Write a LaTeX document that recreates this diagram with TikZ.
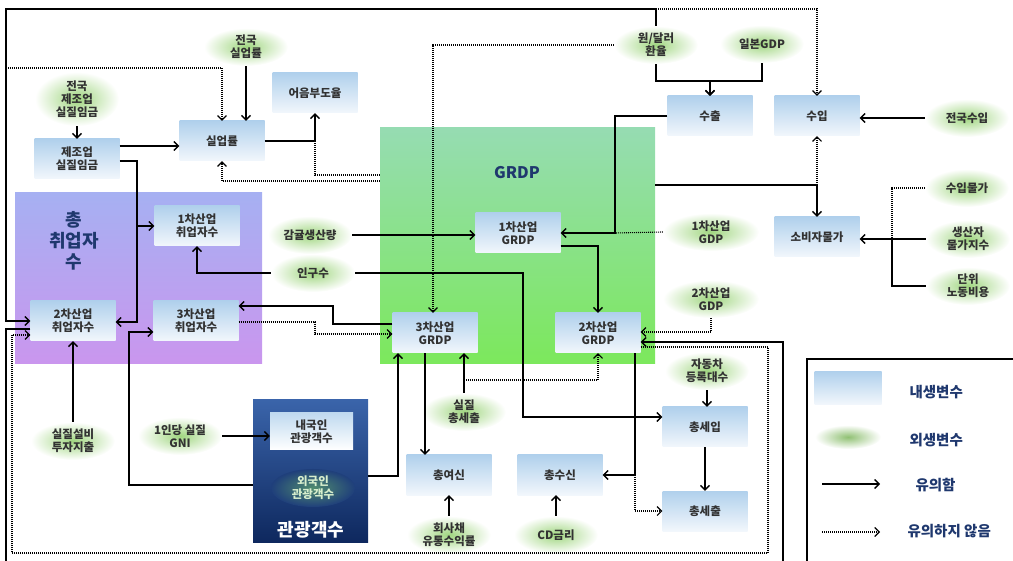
\documentclass[tikz,border=0pt]{standalone}
\usepackage{fontspec}
\setmainfont{Noto Sans CJK KR}
\usetikzlibrary{arrows.meta,shapes.geometric}

\definecolor{boxtop}{RGB}{176,208,236}
\definecolor{boxbot}{RGB}{242,247,252}
\definecolor{glow}{RGB}{160,214,128}
\definecolor{navy}{RGB}{31,56,110}
\definecolor{txt}{RGB}{50,50,50}
\definecolor{emptop}{RGB}{166,176,242}
\definecolor{empbot}{RGB}{202,150,238}
\definecolor{grdptop}{RGB}{150,220,178}
\definecolor{grdpbot}{RGB}{124,232,92}
\definecolor{tourtop}{RGB}{58,100,170}
\definecolor{tourbot}{RGB}{14,40,94}
\definecolor{tourmid}{RGB}{31,63,123}
\definecolor{forglow}{RGB}{80,140,110}
\definecolor{fortext}{RGB}{215,238,205}

\begin{document}
\begin{tikzpicture}[x=1pt,y=-1pt,
  endo/.style={rectangle,top color=boxtop,bottom color=boxbot,minimum width=85,minimum height=40,
    inner sep=1pt,align=center,text=txt,font=\fontsize{11.5}{12.8}\selectfont\bfseries},
  exo/.style={ellipse,inner color=glow,outer color=white,minimum width=84,minimum height=38,
    inner sep=1pt,align=center,text=txt,font=\fontsize{11.5}{12.8}\selectfont\bfseries},
  grp/.style={rectangle,inner sep=0pt},
  title/.style={align=center,text=navy,font=\fontsize{18}{21}\selectfont\bfseries},
  sig/.style={line width=1.3pt,-{Straight Barb[length=4.5pt,width=9pt]}},
  nsig/.style={line width=1.1pt,dash pattern=on 1pt off 1pt,-{Straight Barb[length=4.5pt,width=9pt]}},
  lgtext/.style={text=navy,font=\fontsize{14.5}{16}\selectfont\bfseries}]

  \useasboundingbox (0,0) rectangle (1013,561);

  % groups
  \node[grp,top color=emptop,bottom color=empbot,minimum width=247,minimum height=171] (empbox) at (138.5,278.5) {};
  \node[grp,top color=grdptop,bottom color=grdpbot,minimum width=275,minimum height=236] (grdpbox) at (517.5,246) {};
  \node[grp,top color=tourtop,bottom color=tourbot,minimum width=115,minimum height=142] (tourbox) at (310.5,471) {};
  \node[title] at (74,241) {총\\취업자\\수};
  \node[title,font=\fontsize{16}{18}\selectfont\bfseries] at (517,173) {GRDP};
  \node[title,text=white] at (311,530) {관광객수};

  % endogenous
  \node[endo] (wage) at (77,159) {제조업\\실질임금};
  \node[endo] (unemp) at (222,141) {실업률};
  \node[endo] (bill) at (315,93) {어음부도율};
  \node[endo] (export) at (710,116) {수출};
  \node[endo] (import) at (817,116) {수입};
  \node[endo] (cpi) at (817,237) {소비자물가};
  \node[endo] (emp1) at (197,226) {1차산업\\취업자수};
  \node[endo] (emp2) at (73,321) {2차산업\\취업자수};
  \node[endo] (emp3) at (196,321) {3차산업\\취업자수};
  \node[endo] (grdp1) at (518,233) {1차산업\\GRDP};
  \node[endo] (grdp3) at (435,333) {3차산업\\GRDP};
  \node[endo] (grdp2) at (598,333) {2차산업\\GRDP};
  \node[endo] (rev) at (705,427) {총세입};
  \node[endo] (expd) at (705,511) {총세출};
  \node[endo] (loan) at (449,475) {총여신};
  \node[endo] (dep) at (560,475) {총수신};
  \node[endo,minimum width=83,minimum height=37,top color=boxtop!80!white,bottom color=white] (dom) at (311.5,431.5) {내국인\\관광객수};

  % exogenous
  \node[exo] (exunemp) at (246,47) {전국\\실업률};
  \node[exo,minimum height=46] (exwage) at (77,99) {전국\\제조업\\실질임금};
  \node[exo] (fx) at (656,45) {원/달러\\환율};
  \node[exo] (jp) at (762,44) {일본GDP};
  \node[exo] (eximp) at (967,118) {전국수입};
  \node[exo] (impp) at (967,188) {수입물가};
  \node[exo] (ppi) at (968,239) {생산자\\물가지수};
  \node[exo] (ulc) at (968,286) {단위\\노동비용};
  \node[exo,minimum width=96] (gdp1) at (711,232) {1차산업\\GDP};
  \node[exo,minimum width=96] (gdp2) at (711,299) {2차산업\\GDP};
  \node[exo] (car) at (707,371) {자동차\\등록대수};
  \node[exo] (citrus) at (310,235) {감귤생산량};
  \node[exo] (pop) at (313,273) {인구수};
  \node[exo] (rexp) at (464,412) {실질\\총세출};
  \node[exo] (inv) at (73,441) {실질설비\\투자지출};
  \node[exo] (gni) at (180,436) {1인당 실질\\GNI};
  \node[exo] (bond) at (449,535) {회사채\\유통수익률};
  \node[exo] (cd) at (556,535) {CD금리};
  \node[exo,inner color=forglow,outer color=tourmid,text=fortext] (forn) at (313,488) {외국인\\관광객수};

  % significant
  \coordinate (topfx) at (656,9);
  \coordinate (topleft) at (6,9);
  \draw[sig] (exwage) -- (wage);
  \draw[sig] (wage.east |- 0,146) -- (unemp.west |- 0,146);
  \draw[sig] (wage.east |- 0,161) -| (137,226) -- (emp1.west);
  \draw[sig] (137,226) |- (emp2.east |- 0,322);
  \draw[sig] (exunemp) -- (exunemp |- unemp.north);
  \draw[sig] (unemp.east) -| (bill.south);
  \draw[sig] (fx.north) -- (topfx) -- (topleft) |- (emp2.west |- 0,321);
  \draw[sig] (fx.south) |- (export.north |- 0,81) -- (export.north);
  \draw[sig] (jp.south) |- (export.north |- 0,81) -- (export.north);
  \draw[sig] (eximp.west) -- (import.east |- eximp.west);
  \draw[sig] (export.west) -| (615,233) -- (grdp1.east);
  \draw[sig] (grdpbox.east |- 0,185) -| (cpi.north);
  \draw[sig] (ppi.west) -- (cpi.east |- ppi.west);
  \draw[line width=1.3pt] (ulc.west) -| (892,239);
  \draw[sig] (citrus.east) -- (grdp1.west |- citrus.east);
  \draw[sig] (pop.west) -| (emp1.south);
  \draw[sig] (pop.east) -- (523,273) |- (rev.west |- 0,417);
  \draw[sig] (grdp1.east |- 0,246) -| (grdp2.north);
  \draw[sig] (grdp3.west |- 0,324) -- (333,324) |- (emp3.east |- 0,306);
  \draw[sig] (tourbox.west |- 0,485) -| (129,332) -- (emp3.west |- 0,332);
  \draw[sig] (tourbox.east |- 0,476) -| (grdp3.south -| 398,0);
  \draw[sig] (inv) -- (inv |- emp2.south);
  \draw[sig] (gni.east) -- (dom.west |- gni.east);
  \draw[sig] (rexp) -- (rexp |- grdp3.south);
  \draw[sig] (grdp3.south -| 425,0) -- (loan.north -| 425,0);
  \draw[sig] (grdp2.south -| 635,0) |- (dep.east);
  \draw[sig] (bond) -- (loan);
  \draw[sig] (cd) -- (cd |- dep.south);
  \draw[sig] (car) -- (car |- rev.north);
  \draw[sig] (rev) -- (expd);
  \draw[sig] (emp2.west |- 0,329) -- (6,329) -- (6,575) -- (783,575) |- (grdp2.east |- 0,342);

  % not significant
  \coordinate (dleft) at (6,68);
  \draw[nsig] (topfx) -| (import.north);
  \draw[nsig] (cpi.north |- 0,185) -- (import.south);
  \draw[nsig,-] (impp.west) -| (892,239);
  \draw[nsig] (fx.west) -- (433,45) -- (grdp3.north -| 433,0);
  \draw[nsig,-] (gdp1.west) -- (615,233);
  \draw[nsig] (gdp2.south) |- (grdp2.east |- 0,332);
  \draw[nsig] (grdpbox.west |- 0,181) -| (unemp.south);
  \draw[nsig,-] (grdpbox.west |- 0,175) -| (315,141);
  \draw[nsig] (dleft) -| (unemp.north);
  \draw[nsig] (emp3.east |- 0,322) -- (315,322) |- (grdp3.west |- 0,334);
  \draw[nsig] (rexp |- 0,380) -| (grdp2.south);
  \draw[nsig] (dep.east -| 635,0) |- (expd.west |- 0,511);
  \draw[nsig] (grdp2.east |- 0,347) -- (768,347) -- (768,553) -- (12,553) |- (emp2.west |- 0,335);

  % legend
  \draw[line width=2.2pt] (807,359) rectangle (1030,580);
  \node[endo,minimum width=67,minimum height=33] (lgendo) at (848,388) {};
  \node[exo,minimum width=66,minimum height=24,inner color=glow!90!black] (lgexo) at (848,437) {};
  \coordinate (lgs) at (822,484);
  \coordinate (lge) at (880,484);
  \coordinate (lgds) at (822,532);
  \coordinate (lgde) at (880,532);
  \draw[sig] (lgs) -- (lge);
  \draw[nsig] (lgds) -- (lgde);
  \node[lgtext,anchor=west] at (906,392) {내생변수};
  \node[lgtext,anchor=west] at (906,440) {외생변수};
  \node[lgtext,anchor=west] at (912,485) {유의함};
  \node[lgtext,anchor=west] at (904,531) {유의하지 않음};
\end{tikzpicture}
\end{document}
